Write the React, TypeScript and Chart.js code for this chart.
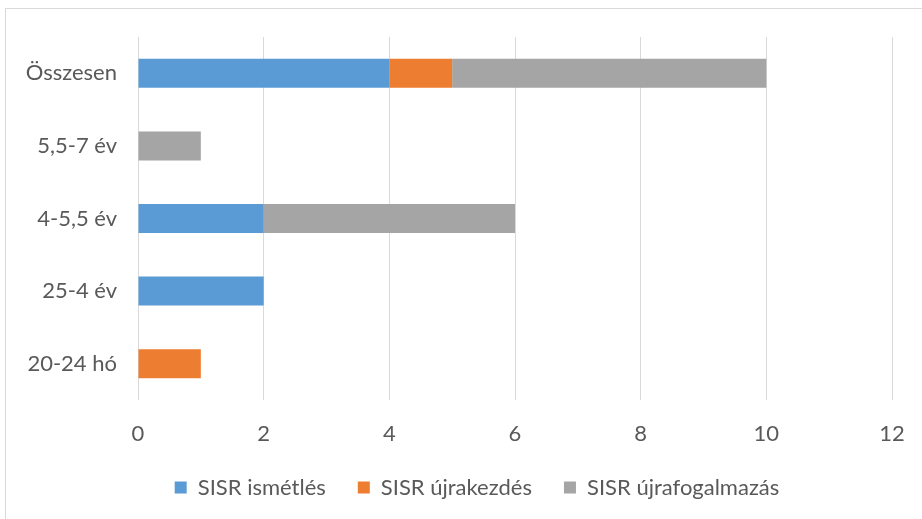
import React, { useEffect, useRef } from "react";
import { Chart, registerables } from "chart.js";

Chart.register(...registerables);

const categories = ["Összesen", "5,5-7 év", "4-5,5 év", "25-4 év", "20-24 hó"];
const seriesNames = ["SISR ismétlés", "SISR újrakezdés", "SISR újrafogalmazás"];
const ismetles = [4, 0, 2, 2, 0];
const ujrakezdes = [1, 0, 0, 0, 1];
const ujrafogalmazas = [5, 1, 4, 0, 0];
const seriesColors = ["#5B9BD5", "#ED7D31", "#A5A5A5"];
const xTicks = [0, 2, 4, 6, 8, 10, 12];

const FONT = "Lato, 'Open Sans', sans-serif";
const TEXT = "#595959";

const legendShift = {
  id: "legendShift",
  afterLayout(chart: any) {
    const lg = chart.legend;
    if (lg) {
      lg.left += 31;
      lg.right += 31;
    }
  },
};

export default function App() {
  const ref = useRef<HTMLCanvasElement | null>(null);

  useEffect(() => {
    if (!ref.current) return;
    const values = [ismetles, ujrakezdes, ujrafogalmazas];
    const chart = new Chart(ref.current, {
      type: "bar",
      data: {
        labels: categories,
        datasets: seriesNames.map((name, i) => ({
          label: name,
          data: values[i],
          backgroundColor: seriesColors[i],
          borderWidth: 0,
          categoryPercentage: 1,
          barPercentage: 0.4,
        })),
      },
      options: {
        indexAxis: "y",
        animation: false,
        responsive: false,
        maintainAspectRatio: false,
        layout: { padding: { left: 0, top: 37, right: 30, bottom: 10.5 } },
        plugins: {
          tooltip: { enabled: false },
          legend: {
            position: "bottom",
            labels: {
              boxWidth: 12,
              boxHeight: 12,
              padding: 32,
              color: TEXT,
              font: { family: FONT, size: 22 },
            },
          },
        },
        scales: {
          x: {
            stacked: true,
            min: 0,
            max: 12,
            afterBuildTicks: (scale: any) => {
              scale.ticks = xTicks.map((v) => ({ value: v }));
            },
            afterFit: (scale: any) => {
              scale.height = 44.5;
              scale.paddingRight = 12;
              scale.paddingLeft = 0;
            },
            grid: { color: "#D9D9D9", drawTicks: false, lineWidth: 1 },
            border: { display: false },
            ticks: {
              color: TEXT,
              padding: 21,
              font: { family: FONT, size: 22 },
            },
          },
          y: {
            stacked: true,
            afterFit: (scale: any) => {
              scale.width = 138;
            },
            grid: { display: false, drawTicks: false },
            border: { display: false },
            ticks: {
              color: TEXT,
              padding: 21,
              font: { family: FONT, size: 22 },
            },
          },
        },
      },
      plugins: [legendShift],
    });
    return () => chart.destroy();
  }, []);

  return (
    <div style={{ position: "fixed", left: 0, top: 0, width: 922, height: 519, background: "#fff", overflow: "hidden" }}>
      <div
        style={{
          position: "absolute",
          left: 5,
          top: 8,
          width: 940,
          height: 540,
          border: "1px solid #D9D9D9",
          boxSizing: "border-box",
        }}
      />
      <canvas ref={ref} width={922} height={519} style={{ position: "absolute", left: 0, top: 0, width: 922, height: 519 }} />
    </div>
  );
}
